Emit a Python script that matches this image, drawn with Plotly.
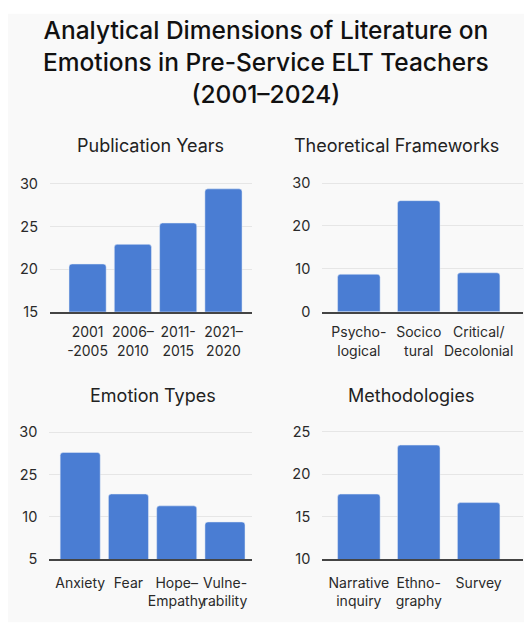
import plotly.graph_objects as go

W, H = 530, 637

# ---- data ----
year_labels = ["2001<br>-2005", "2006–<br>2010", "2011-<br>2015", "2021–<br>2020"]
year_values = [20.6, 22.9, 25.4, 29.4]

framework_labels = ["Psycho-<br>logical", "Socico<br>tural", "Critical/<br>Decolonial"]
framework_values = [8.75, 25.9, 9.1]

emotion_labels = ["Anxiety", "Fear", "Hope–<br>Empathy", "Vulne-<br>rability"]
emotion_values = [17.6, 12.7, 11.3, 9.4]
emotion_tickvals = [5, 10, 15, 20]
emotion_ticktext = ["5", "10", "25", "30"]

method_labels = ["Narrative<br>inquiry", "Ethno-<br>graphy", "Survey"]
method_values = [17.65, 23.4, 16.65]

BAR = "#4a7dd3"
FONT = "Inter"

def px_x(p):
    return p / W

def px_y(p):
    return 1 - p / H

fig = go.Figure()

panels = [
    ("x", "y", year_labels, year_values, (50, 252), (312.7, 179.1), [-0.83, 3.63], [15, 30.3], 0.82,
     [15, 20, 25, 30], ["15", "20", "25", "30"], "Publication Years", 143, 7),
    ("x2", "y2", framework_labels, framework_values, (322.3, 523), (312.7, 178.4), [-0.61, 2.74], [0, 30.6], 0.71,
     [0, 10, 20, 30], ["0", "10", "20", "30"], "Theoretical Frameworks", 143, 7),
    ("x3", "y3", emotion_labels, emotion_values, (49.3, 252), (565.7, 433.1), [-0.64, 3.56], [5, 20.3], 0.83,
     emotion_tickvals, emotion_ticktext, "Emotion Types", 398, 10),
    ("x4", "y4", method_labels, method_values, (322.3, 523), (565.7, 432.4), [-0.61, 2.74], [10, 25.3], 0.71,
     [10, 15, 20, 25], ["10", "15", "20", "25"], "Methodologies", 398, 10),
]

title_x = [150, 397, 153, 411]

for i, (xa, ya, labels, values, xd, yd, xr, yr, bw, tv, tt, title, ty, xso) in enumerate(panels):
    fig.add_trace(go.Bar(x=labels, y=values, xaxis=xa, yaxis=ya, marker_color=BAR,
                         width=bw, showlegend=False, hoverinfo="x+y"))
    suffix = "" if i == 0 else str(i + 1)
    fig.layout["xaxis" + suffix] = dict(
        domain=[px_x(xd[0]), px_x(xd[1])], anchor=ya, type="category",
        range=xr, showline=True, linecolor="#444", linewidth=1.5,
        showgrid=False, zeroline=False, tickangle=0, ticks="",
        tickfont=dict(family=FONT, size=14, color="#2a2a2a"),
        ticklabelstandoff=xso,
    )
    fig.layout["yaxis" + suffix] = dict(
        domain=[px_y(yd[0]), px_y(yd[1])], anchor=xa, range=yr,
        tickvals=tv, ticktext=tt, showgrid=True, gridcolor="#e6e6e6", gridwidth=1,
        zeroline=False, showline=False, ticks="",
        tickfont=dict(family=FONT, size=14.5, color="#2a2a2a"),
        ticklabelstandoff=11,
    )
    fig.add_annotation(text=title, x=px_x(title_x[i]),
                       y=px_y(ty), xref="paper", yref="paper", showarrow=False,
                       xanchor="center", yanchor="middle",
                       font=dict(family=FONT, size=18, color="#222"))

fig.add_shape(type="rect", xref="paper", yref="paper", x0=px_x(8), x1=px_x(524), y0=px_y(630), y1=px_y(8),
              fillcolor="#f9f9f9", line=dict(width=0), layer="below")

fig.add_annotation(
    text="Analytical Dimensions of Literature on<br>Emotions in Pre-Service ELT Teachers<br>(2001–2024)",
    x=px_x(266), y=px_y(57), xref="paper", yref="paper", showarrow=False,
    xanchor="center", yanchor="middle", align="center",
    font=dict(family=FONT, size=24.5, color="#111", weight=500))

fig.update_layout(
    width=W, height=H,
    margin=dict(l=0, r=0, t=0, b=0),
    paper_bgcolor="white", plot_bgcolor="rgba(0,0,0,0)",
    barcornerradius=3,
    font=dict(family=FONT),
)

fig.write_html("out.html")
